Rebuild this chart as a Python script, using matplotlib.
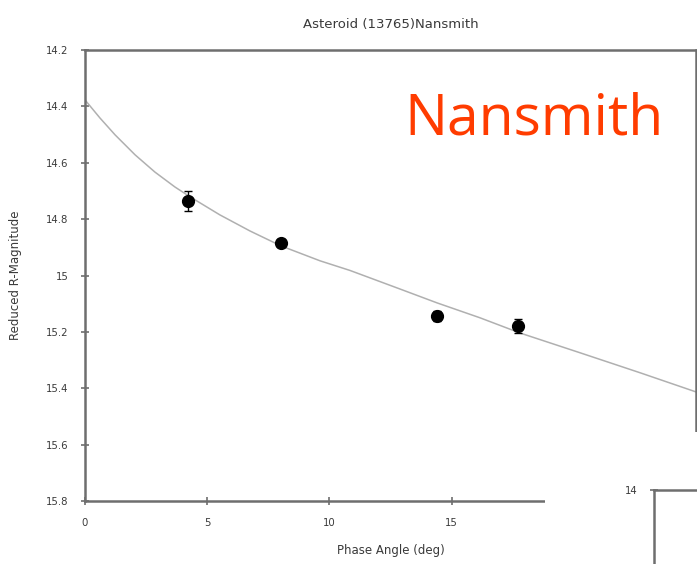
import matplotlib
matplotlib.use("Agg")
import matplotlib.pyplot as plt

# observed points (phase angle in deg, reduced R magnitude, error)
phase = [4.2, 8.0, 14.4, 17.7]
mag = [14.735, 14.884, 15.143, 15.18]
err = [0.035, 0.012, 0.018, 0.025]

# fitted phase curve
fit_phase = [0.0, 0.61, 1.23, 2.05, 2.86, 3.68, 4.30, 5.52, 6.75, 8.02, 9.62,
             10.84, 12.89, 14.40, 16.16, 17.80, 20.25, 22.71, 25.0]
fit_mag = [14.377, 14.441, 14.501, 14.572, 14.633, 14.686, 14.721, 14.785, 14.842,
           14.895, 14.948, 14.982, 15.048, 15.097, 15.150, 15.204, 15.274, 15.345, 15.413]

yticks = [14.2, 14.4, 14.6, 14.8, 15.0, 15.2, 15.4, 15.6, 15.8]
ytick_labels = ["14.2", "14.4", "14.6", "14.8", "15", "15.2", "15.4", "15.6", "15.8"]
xticks = [0, 5, 10, 15]
xtick_labels = ["0", "5", "10", "15"]

W, H = 697, 564
fig = plt.figure(figsize=(W / 100, H / 100), dpi=100)
plt.rcParams['font.family'] = ['DejaVu Sans']

spine_col = "#6e6e6e"
text_col = "#3a3a3a"

# --------------------------------------------------
# 	main chart
# --------------------------------------------------
ax = fig.add_axes([85 / W, 1 - 501 / H, (696 - 85) / W, (501 - 50) / H])
ax.plot(fit_phase, fit_mag, color="#b0b0b0", lw=1.1, zorder=2)
ax.errorbar(phase, mag, yerr=err, fmt="o", color="black", ms=8.5,
            ecolor="black", elinewidth=1, capsize=3, zorder=3)

ax.set_xlim(0, 25)
ax.set_ylim(15.8, 14.2)
ax.set_yticks(yticks)
ax.set_yticklabels(ytick_labels)
ax.set_xticks(xticks)
ax.set_xticklabels(xtick_labels)
ax.tick_params(axis="both", labelsize=7.3, colors=text_col, direction="inout",
               length=6, width=1.2, color=spine_col)
ax.tick_params(axis="y", pad=9)
ax.tick_params(axis="x", pad=9)
for s in ax.spines.values():
    s.set_color(spine_col)
    s.set_linewidth(1.8)

ax.set_title("Asteroid (13765)Nansmith", fontsize=9.5, color=text_col, pad=16)
ax.set_xlabel("Phase Angle (deg)", fontsize=8.5, color=text_col, labelpad=12)
ax.set_ylabel("Reduced R-Magnitude", fontsize=8.5, color=text_col, labelpad=17)

fig.text(534 / W, 1 - 120 / H, "Nansmith", color="#ff3c00", fontsize=41,
         ha="center", va="center", family=["Open Sans", "DejaVu Sans"])

# --------------------------------------------------
# 	corner of the next chart pasted over the bottom right
# --------------------------------------------------
cover = fig.add_axes([545 / W, 0, (W - 545) / W, (H - 432) / H])
cover.set_facecolor("white")
cover.set_xticks([])
cover.set_yticks([])
for s in cover.spines.values():
    s.set_visible(False)

ax2 = fig.add_axes([654 / W, -0.3, 0.2, (H - 490) / H + 0.3])
ax2.set_facecolor("none")
ax2.set_ylim(14.6, 14.0)
ax2.set_yticks([14.0])
ax2.set_yticklabels(["14"])
ax2.set_xticks([])
ax2.spines["right"].set_visible(False)
ax2.spines["bottom"].set_visible(False)
for side in ("top", "left"):
    ax2.spines[side].set_color(spine_col)
    ax2.spines[side].set_linewidth(1.8)
ax2.tick_params(axis="y", labelsize=7.3, colors=text_col, direction="inout",
                length=6, width=1.2, color=spine_col, pad=9)

fig.savefig("out.png", dpi=100)
